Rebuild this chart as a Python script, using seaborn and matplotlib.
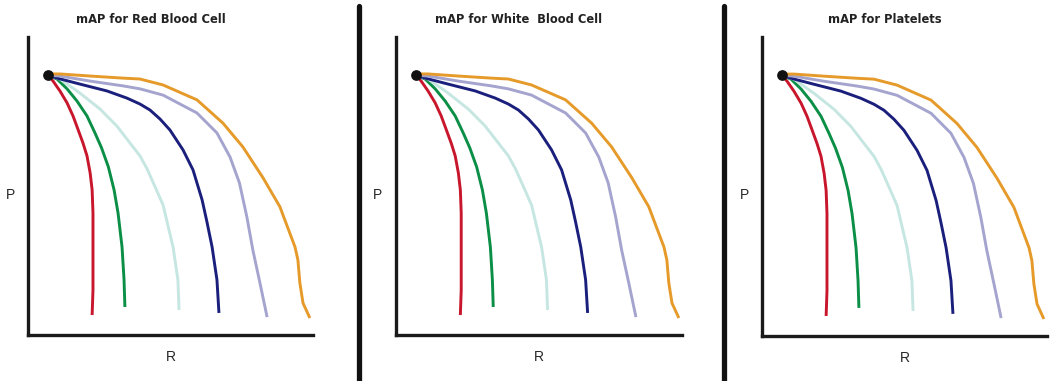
import matplotlib
matplotlib.use("Agg")
import matplotlib.pyplot as plt
from matplotlib.lines import Line2D
import pandas as pd
import seaborn as sns

# panel titles (same six PR curves drawn in each panel)
titles = ["mAP for Red Blood Cell", "mAP for White  Blood Cell", "mAP for Platelets"]
curve_names = ["red", "green", "cyan", "navy", "lavender", "orange"]
colors = ["#c8162c", "#0b8f47", "#c6e6e1", "#1b1f7c", "#a4a4cf", "#e59a2a"]

# common start point
start_r, start_p = 0.070, 0.872

# curves (R, P in a 0..1 frame)
red_r = [0.070, 0.088, 0.112, 0.137, 0.158, 0.175, 0.193, 0.207, 0.218, 0.225,
         0.228, 0.228, 0.228, 0.228, 0.225]
red_p = [0.872, 0.852, 0.819, 0.779, 0.735, 0.691, 0.644, 0.601, 0.544, 0.487,
         0.409, 0.319, 0.242, 0.151, 0.067]
green_r = [0.070, 0.102, 0.137, 0.172, 0.207, 0.235, 0.258, 0.282, 0.302,
           0.316, 0.330, 0.337, 0.340]
green_p = [0.872, 0.859, 0.826, 0.785, 0.735, 0.678, 0.628, 0.564, 0.487,
           0.409, 0.295, 0.185, 0.094]
cyan_r = [0.070, 0.112, 0.182, 0.253, 0.312, 0.358, 0.393, 0.418, 0.446, 0.474,
          0.509, 0.526, 0.530]
cyan_p = [0.872, 0.859, 0.812, 0.758, 0.701, 0.644, 0.601, 0.557, 0.497, 0.436,
          0.295, 0.185, 0.084]
navy_r = [0.070, 0.102, 0.182, 0.277, 0.347, 0.393, 0.428, 0.463, 0.498, 0.544,
          0.579, 0.611, 0.628, 0.646, 0.663, 0.670]
navy_p = [0.872, 0.862, 0.842, 0.819, 0.795, 0.775, 0.755, 0.725, 0.688, 0.621,
          0.554, 0.453, 0.379, 0.295, 0.185, 0.074]
lav_r = [0.070, 0.112, 0.218, 0.333, 0.393, 0.474, 0.593, 0.663, 0.709, 0.742,
         0.768, 0.789, 0.814, 0.839]
lav_p = [0.872, 0.869, 0.852, 0.836, 0.826, 0.805, 0.745, 0.678, 0.597, 0.510,
         0.396, 0.285, 0.174, 0.060]
orange_r = [0.070, 0.112, 0.218, 0.333, 0.393, 0.474, 0.593, 0.684, 0.754, 0.825,
            0.884, 0.937, 0.947, 0.954, 0.965, 0.989]
orange_p = [0.876, 0.876, 0.869, 0.862, 0.859, 0.839, 0.789, 0.711, 0.631, 0.527,
            0.430, 0.295, 0.252, 0.174, 0.107, 0.057]

curves_r = [red_r, green_r, cyan_r, navy_r, lav_r, orange_r]
curves_p = [red_p, green_p, cyan_p, navy_p, lav_p, orange_p]

rows = []
for name, rr, pp in zip(curve_names, curves_r, curves_p):
    for r, p in zip(rr, pp):
        rows.append({"curve": name, "R": r, "P": p})
df = pd.DataFrame(rows)

sns.set_style("white")
plt.rcParams["font.family"] = ["Liberation Sans", "DejaVu Sans"]

fig = plt.figure(figsize=(10.5, 3.81), dpi=100)
W, H = 1050, 381
# axes frames in pixels: left, right, top, bottom
frames = [(28, 313, 37, 335), (396, 682, 37, 335), (762, 1047, 37, 336)]

for (l, r, t, b), title in zip(frames, titles):
    ax = fig.add_axes([l / W, 1 - b / H, (r - l) / W, (b - t) / H])
    sns.lineplot(data=df, x="R", y="P", hue="curve", palette=dict(zip(curve_names, colors)),
                 hue_order=curve_names, sort=False, estimator=None, units="curve",
                 legend=False, linewidth=2.1, ax=ax)
    for line in ax.get_lines():
        line.set_solid_joinstyle("round")
        line.set_solid_capstyle("butt")
    ax.scatter([start_r], [start_p], s=45, color="#111111", zorder=5)
    ax.set_xlim(0, 1)
    ax.set_ylim(0, 1)
    ax.set_xticks([])
    ax.set_yticks([])
    for side in ["top", "right"]:
        ax.spines[side].set_visible(False)
    for side in ["left", "bottom"]:
        ax.spines[side].set_linewidth(2.4)
        ax.spines[side].set_color("#1a1a1a")
    ax.set_xlabel("R", fontsize=10, va="center")
    ax.set_ylabel("P", fontsize=10, rotation=0, va="center", ha="center")
    ax.xaxis.set_label_coords(0.5, -0.074)
    ax.yaxis.set_label_coords(-0.063, 0.47)
    ax.text(0.43, 1.058, title, transform=ax.transAxes, ha="center", va="center",
            fontsize=8.3, fontweight="bold", family="DejaVu Sans", color="#222222")

# vertical separators between panels
for xs in [359, 724]:
    fig.add_artist(Line2D([xs / W, xs / W], [0, 1 - 6 / H], color="#111111", linewidth=3.8))

fig.savefig("out.png", dpi=100)
